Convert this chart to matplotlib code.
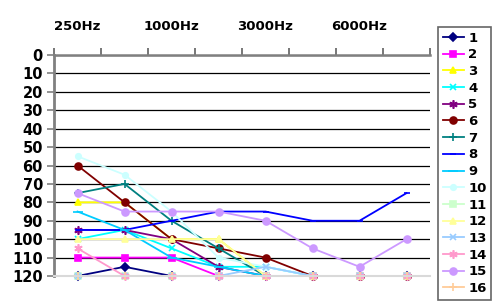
import matplotlib.pyplot as plt
from matplotlib.ticker import FixedLocator, NullFormatter, FixedFormatter

freqs = ['250Hz', '500Hz', '1000Hz', '2000Hz', '3000Hz', '4000Hz', '6000Hz', '8000Hz']
shown_labels = ['250Hz', '1000Hz', '3000Hz', '6000Hz']

s1 = [120, 115, 120, 120, 120, 120, 120, 120]
s2 = [110, 110, 110, 120, 120, 120, 120, 120]
s3 = [80, 80, 100, 100, 120, 120, 120, 120]
s4 = [100, 95, 105, 115, 115, 120, 120, 120]
s5 = [95, 95, 100, 115, 120, 120, 120, 120]
s6 = [60, 80, 100, 105, 110, 120, 120, 120]
s7 = [75, 70, 90, 105, 120, 120, 120, 120]
s8 = [95, 95, 90, 85, 85, 90, 90, 75]
s9 = [85, 95, 110, 115, 120, 120, 120, 120]
s10 = [55, 65, 85, 110, 115, 120, 120, 120]
s11 = [120, 120, 120, 120, 120, 120, 120, 120]
s12 = [100, 100, 100, 100, 120, 120, 120, 120]
s13 = [120, 120, 120, 120, 115, 120, 120, 120]
s14 = [105, 120, 120, 120, 120, 120, 120, 120]
s15 = [75, 85, 85, 85, 90, 105, 115, 100]
s16 = [120, 120, 120, 120, 120, 120, 120, 120]

series = [s1, s2, s3, s4, s5, s6, s7, s8, s9, s10, s11, s12, s13, s14, s15, s16]
names = [str(i) for i in range(1, 17)]

# excel 2003 style colours and markers
colors = ['#000080', '#FF00FF', '#FFFF00', '#00FFFF', '#800080', '#800000',
          '#008080', '#0000FF', '#00CCFF', '#CCFFFF', '#CCFFCC', '#FFFF99',
          '#99CCFF', '#FF99CC', '#CC99FF', '#FFCC99']
markers = ['D', 's', '^', 'x', (6, 2, 0), 'o', '+', '_',
           '_', 'o', 's', '^', 'x', (6, 2, 0), 'o', '+']
msizes = [4, 5, 5, 5, 6, 5, 6, 5, 7, 4, 5, 5, 5, 6, 5, 6]

fig = plt.figure(figsize=(5.0, 3.04), dpi=100)
ax = fig.add_axes([54 / 500, 1 - 276 / 304, (430 - 54) / 500, (276 - 55) / 304])

x = list(range(len(freqs)))
for vals, name, c, m, ms in zip(series, names, colors, markers, msizes):
    ax.plot(x, vals, color=c, marker=m, markersize=ms, linewidth=1.3,
            markeredgewidth=1.2, label=name, clip_on=False)

ax.set_xlim(-0.5, 7.5)
ax.set_ylim(120, 0)

# horizontal gridlines
ax.set_yticks(range(0, 121, 10))
ax.yaxis.grid(True, color='#000000', linewidth=0.9)
ax.set_axisbelow(True)

# category axis on top
ax.xaxis.tick_top()
ax.xaxis.set_major_locator(FixedLocator([i - 0.5 for i in range(9)]))
ax.xaxis.set_major_formatter(NullFormatter())
ax.xaxis.set_minor_locator(FixedLocator([0, 2, 4, 6]))
ax.xaxis.set_minor_formatter(FixedFormatter(shown_labels))
ax.tick_params(axis='x', which='major', length=5, width=1.2, color='#606060', top=True, bottom=False)
ax.tick_params(axis='x', which='minor', length=0, pad=16, labelsize=9.5, top=True, bottom=False)
for t in ax.xaxis.get_minorticklabels():
    t.set_fontweight('bold')

ax.tick_params(axis='y', length=5, width=1.2, color='#808080', labelsize=10.5, pad=3)
for t in ax.get_yticklabels():
    t.set_fontweight('bold')

ax.spines['top'].set_color('#808080')
ax.spines['top'].set_linewidth(1.8)
ax.spines['left'].set_color('#808080')
ax.spines['left'].set_linewidth(2)
ax.spines['bottom'].set_color('#D9D9D9')
ax.spines['bottom'].set_linewidth(1.5)
ax.spines['right'].set_visible(False)

leg = fig.legend(loc='upper left', bbox_to_anchor=(438 / 500, 1 - 27 / 304),
                 fancybox=False, edgecolor='#404040', handlelength=1.6,
                 labelspacing=0.28, borderpad=0.35, handletextpad=0.35,
                 borderaxespad=0, prop={'weight': 'bold', 'size': 9.5})
leg.get_frame().set_linewidth(1.2)

fig.savefig('out.png', dpi=100)
